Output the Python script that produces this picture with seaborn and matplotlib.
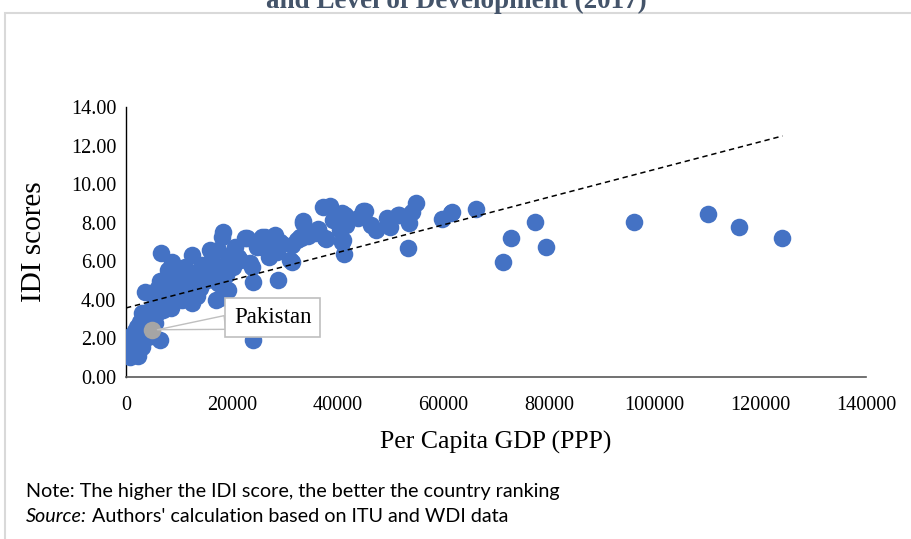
import numpy as np
import pandas as pd
import matplotlib
matplotlib.use("Agg")
import matplotlib.pyplot as plt
import seaborn as sns
from matplotlib.patches import Rectangle

# ---------------- data ----------------
gdp = [
    700, 1000, 800, 1300, 1500, 1700, 1900, 2100, 2300, 2500, 2600, 2800, 3000, 3200, 3400,
    3600, 3800, 4000, 4200, 4400, 4600, 4900, 1200, 2000, 3000, 3600, 4500, 5200, 5500, 5800,
    6400,
    6000, 6000, 6400, 6600, 6800, 7000, 7400, 7900, 8000, 8700, 8500, 9300, 9800, 10200, 10600,
    11100, 11500, 7200, 9000, 12000,
    12500, 12500, 13000, 13500, 14000, 14400, 15000, 15500, 15900, 16200, 16800, 17000, 17400,
    17400, 17800, 17800, 18100, 18300, 19300, 19500, 13800, 16000, 19000,
    20200, 20600, 21200, 21500, 22500, 22900, 23400, 23800, 24000, 24000, 24700, 25700, 25700,
    26300, 26600, 27800, 28200, 28500, 28700, 29100, 27000, 29500,
    31000, 31400, 31400, 32300, 32900, 33400, 33500, 33200, 35700, 36300, 36300, 37200, 37600,
    37900, 38500, 39100, 34500,
    40400, 40800, 40800, 41000, 41200, 41400, 41700, 43900, 44800, 45200, 46400, 47300, 49300,
    49500, 49900, 51400, 51700, 53300, 53600, 54200, 54900,
    59700, 61500, 61700, 66300, 71300, 72800, 77400, 79400, 96200, 110200, 116000, 124200,
]
idi = [
    1.05, 1.4, 1.9, 1.2, 1.7, 2.4, 1.5, 2.0, 1.1, 1.8, 2.85, 2.3, 1.55, 2.6, 2.1,
    3.2, 2.7, 3.0, 2.07, 3.4, 2.9, 3.57, 2.2, 2.6, 3.3, 4.4, 4.35, 3.1, 2.8, 3.3,
    1.92,
    3.8, 4.6, 5.0, 6.43, 4.93, 3.5, 4.15, 5.55, 4.0, 5.96, 3.6, 4.25, 5.13, 4.35, 4.0,
    5.7, 4.8, 4.6, 4.7, 4.4,
    3.84, 6.32, 5.18, 4.2, 4.6, 5.8, 5.0, 5.4, 6.58, 5.55, 5.03, 4.0, 6.58,
    4.87, 4.1, 5.7, 7.27, 7.5, 4.5, 6.2, 5.5, 6.0, 5.3,
    5.7, 6.74, 6.22, 6.06, 7.2, 7.2, 5.9, 5.7, 4.93, 1.92, 6.74, 7.27, 6.74,
    7.27, 6.7, 7.27, 7.36, 6.5, 5.03, 7.0, 6.2, 6.9,
    6.06, 6.84, 5.96, 7.1, 7.27, 8.0, 8.1, 7.2, 7.45, 7.7, 7.6, 8.8, 7.2,
    7.15, 8.86, 8.14, 7.3,
    7.6, 8.5, 7.0, 7.1, 6.4, 8.4, 7.9, 8.24, 8.6, 8.6, 7.9, 7.6, 8.25,
    8.2, 7.8, 8.4, 8.4, 6.7, 7.97, 8.55, 9.0,
    8.2, 8.5, 8.55, 8.7, 5.96, 7.2, 8.03, 6.74, 8.03, 8.45, 7.77, 7.2,
]
highlight_name = "Pakistan"
highlight_gdp = [4900]
highlight_idi = [2.42]

trend_intercept = 3.58
trend_slope = 7.18e-5

x_ticks = [0, 20000, 40000, 60000, 80000, 100000, 120000, 140000]
y_ticks = [0, 2, 4, 6, 8, 10, 12, 14]

title_text = "and Level of Development (2017)"
x_label = "Per Capita GDP (PPP)"
y_label = "IDI scores"
note_text = "Note: The higher the IDI score, the better the country ranking"
source_label = "Source:"
source_text = " Authors' calculation based on ITU and WDI data"

# ---------------- figure ----------------
sns.set_theme(style="white")
plt.rcParams["font.family"] = ["Liberation Serif", "DejaVu Serif"]

W, H = 912, 539
fig = plt.figure(figsize=(W / 100, H / 100), dpi=100)
fig.patch.set_facecolor("white")

# outer chart frame (extends past right/bottom edges)
fig.patches.append(Rectangle((5 / W, -0.05), 1.2, 1 - 13 / H + 0.05,
                             transform=fig.transFigure, fill=False,
                             edgecolor="#D9D9D9", linewidth=1.5, zorder=0))

ax = fig.add_axes([126 / W, 1 - 377 / H, (866 - 126) / W, (377 - 107) / H])
ax.set_facecolor("none")

df = pd.DataFrame({"gdp": gdp, "idi": idi})
sns.scatterplot(data=df, x="gdp", y="idi", ax=ax, color="#4472C4", s=160,
                linewidth=0, alpha=1.0, zorder=3, legend=False)
hl = pd.DataFrame({"gdp": highlight_gdp, "idi": highlight_idi})
sns.scatterplot(data=hl, x="gdp", y="idi", ax=ax, color="#A5A5A5", s=160,
                linewidth=0, zorder=4, legend=False)

# linear trend line
tx = np.array([0, max(gdp)])
ax.plot(tx, trend_intercept + trend_slope * tx, linestyle=(0, (3.5, 2.5)),
        color="black", linewidth=1.1, zorder=5)

ax.set_xlim(0, 140000)
ax.set_ylim(0, 14)
ax.set_xticks(x_ticks)
ax.set_xticklabels([str(v) for v in x_ticks])
ax.set_yticks(y_ticks)
ax.set_yticklabels([f"{v:.2f}" for v in y_ticks])
ax.tick_params(axis="x", length=0, labelsize=14.5, colors="black", pad=14)
ax.tick_params(axis="y", length=0, labelsize=14.5, colors="black", pad=7)

for s in ["top", "right"]:
    ax.spines[s].set_visible(False)
ax.spines["left"].set_color("black")
ax.spines["left"].set_linewidth(1.0)
ax.spines["bottom"].set_color("#595959")
ax.spines["bottom"].set_linewidth(1.2)

ax.set_xlabel(x_label, fontsize=18.5, labelpad=11, color="black")
ax.set_ylabel(y_label, fontsize=21, labelpad=17, color="black")

# callout
ax.annotate(highlight_name, xy=(highlight_gdp[0], highlight_idi[0]),
            xytext=(121, 13), textcoords="offset pixels",
            ha="center", va="center", fontsize=16.5, color="black", zorder=6,
            bbox=dict(boxstyle="square,pad=0.38", facecolor="white",
                      edgecolor="#BFBFBF", linewidth=1.2),
            arrowprops=dict(arrowstyle="wedge,tail_width=0.6,shrink_factor=0.5",
                            facecolor="white", edgecolor="#BFBFBF",
                            linewidth=1.0, shrinkA=0, shrinkB=4))

# title (cut off at top)
fig.text(456 / W, 1 - 8 / H, title_text, ha="center", va="baseline",
         fontsize=19.5, fontweight="bold", color="#44546A")

# notes
sans = ["Lato", "DejaVu Sans"]
fs_note = 14.2
fig.text(26 / W, 1 - 497 / H, note_text, ha="left", va="baseline",
         fontsize=fs_note, family=sans, color="black")
t = fig.text(26 / W, 1 - 522 / H, source_label, ha="left", va="baseline",
             fontsize=fs_note, family=sans, style="italic", color="black")
fig.canvas.draw()
bb = t.get_window_extent()
fig.text(bb.x1 / W, 1 - 522 / H, source_text, ha="left", va="baseline",
         fontsize=fs_note, family=sans, color="black")

fig.savefig("out.png", dpi=100)
